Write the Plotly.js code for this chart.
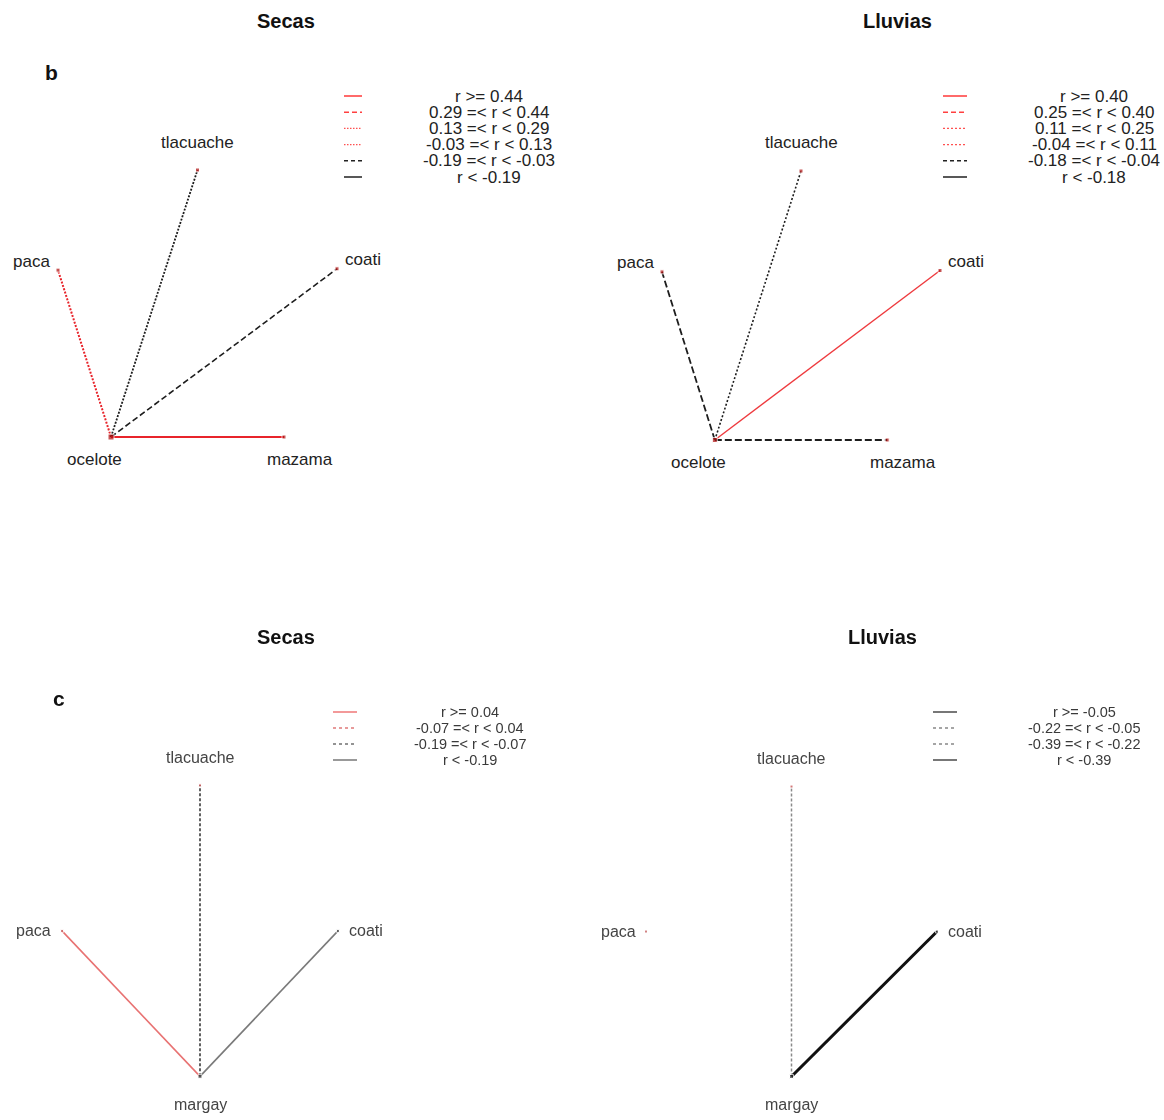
<!DOCTYPE html>
<html>
<head>
<meta charset="utf-8">
<script src="https://cdn.plot.ly/plotly-3.0.1.min.js"></script>
<style>
  html, body { margin: 0; padding: 0; background: #fff; }
  .sheet { position: absolute; left: 0; width: 1164px; height: 560px; }
  #top { top: 0; }
  #bottom { top: 560px; filter: blur(0.45px); }
</style>
</head>
<body>
<div id="top" class="sheet"></div>
<div id="bottom" class="sheet"></div>
<script>
// ---- Data ---------------------------------------------------------------
// Species of each network; the first one is the hub every link starts from.
const speciesB = ['ocelote', 'paca', 'tlacuache', 'coati', 'mazama'];
const layoutBx = [-0.62, -1, 0, 1, 0.62];
const layoutBy = [-1, 0.25, 1, 0.26, -1];

const speciesC = ['margay', 'paca', 'tlacuache', 'coati'];
const layoutCx = [0, -1, 0, 1];
const layoutCy = [-1, 0, 1, 0];

// Correlation of the hub with each other species (null = no link drawn)
const linksB = ['paca', 'tlacuache', 'coati', 'mazama'];
const rSecasB = [0.20, -0.01, -0.10, 0.52];
const rLluviasB = [-0.12, -0.02, 0.42, -0.08];

const linksC = ['paca', 'tlacuache', 'coati'];
const rSecasC = [0.08, -0.10, -0.22];
const rLluviasC = [null, -0.12, -0.45];

// Class limits shown in each legend
const cutsSecasB = [0.44, 0.29, 0.13, -0.03, -0.19];
const cutsLluviasB = [0.40, 0.25, 0.11, -0.04, -0.18];
const cutsSecasC = [0.04, -0.07, -0.19];
const cutsLluviasC = [-0.05, -0.22, -0.39];

const seasonTitles = ['Secas', 'Lluvias'];
const panelLetters = ['b', 'c'];

// ---- Styling ------------------------------------------------------------
const RED = '#e8242b', BLK = '#1e1e1e';
const W = 1164, H = 560, PAD = 1.3;

const panels = [
  { div: 'top', frame: [58, 337, 170, 437], species: speciesB, lx: layoutBx, ly: layoutBy,
    links: linksB, r: rSecasB, cuts: cutsSecasB,
    bandColor: [RED, RED, RED, RED, BLK, BLK],
    bandDash: ['solid', '5px,3px', '2px,1.5px', '2px,1.5px', '6px,3px', 'solid'],
    bandWidth: [2.2, 1.8, 2, 1.8, 1.6, 1.6],
    negColor: BLK, nodeColor: '#b01010', nodeSize: 4, hubSize: 6,
    labelFont: 17, labelColor: '#222',
    title: [286, 21], titleSize: 20, letter: [51, 72], letterText: panelLetters[0],
    legend: { x0: 344, x1: 362, tx: 489, y0: 96, dy: 16.2, size: 17, color: '#222',
      colors: ['#ff2a2a', '#ff4040', '#ff5050', '#ff5050', '#222', '#111'], width: 1.4 },
    seasonIdx: 0 },
  { div: 'top', frame: [662, 940, 171, 440], species: speciesB, lx: layoutBx, ly: layoutBy,
    links: linksB, r: rLluviasB, cuts: cutsLluviasB,
    bandColor: ['#ee3a3e', RED, RED, RED, BLK, BLK],
    bandDash: ['solid', '5px,3px', '2px,2px', '2px,2px', '7px,3px', 'solid'],
    bandWidth: [1.4, 1.8, 1.6, 1.6, 1.8, 1.8],
    negColor: BLK, nodeColor: '#b01010', nodeSize: 4, hubSize: 5,
    labelFont: 17, labelColor: '#222',
    title: [897, 21], titleSize: 20, letter: null,
    legend: { x0: 943, x1: 967, tx: 1094, y0: 96, dy: 16.2, size: 17, color: '#222',
      colors: ['#ff2a2a', '#ff4040', '#ff5050', '#ff5050', '#222', '#111'], width: 1.4 },
    seasonIdx: 1 },
  { div: 'bottom', frame: [62, 338, 226, 521], species: speciesC, lx: layoutCx, ly: layoutCy,
    links: linksC, r: rSecasC, cuts: cutsSecasC,
    bandColor: ['#e87272', '#e06060', '#3a3a3a', '#7a7a7a'],
    bandDash: ['solid', '3px,3px', '3px,2px', 'solid'],
    bandWidth: [1.6, 1.5, 1.6, 1.6],
    negColor: '#3a3a3a', nodeColor: '#3a3a3a', nodeSize: 3, hubSize: 4,
    labelFont: 16, labelColor: '#444',
    title: [286, 77], titleSize: 20, letter: [59, 138], letterText: panelLetters[1],
    legend: { x0: 333, x1: 357, tx: 470, y0: 152, dy: 16, size: 14.5, color: '#3a3a3a',
      colors: ['#f08080', '#e07a7a', '#707070', '#808080'], width: 1.6,
      dashes: ['solid', '3px,3px', '3px,3px', 'solid'] },
    seasonIdx: 0 },
  { div: 'bottom', frame: [646, 937, 227, 520], species: speciesC, lx: layoutCx, ly: layoutCy,
    links: linksC, r: rLluviasC, cuts: cutsLluviasC,
    bandColor: ['#555', '#8a8a8a', '#666', '#111'],
    bandDash: ['solid', '3px,2px', '3px,2px', 'solid'],
    bandWidth: [1.6, 1.5, 1.5, 3],
    negColor: '#555', nodeColor: '#333', nodeSize: 3, hubSize: 4,
    labelFont: 16, labelColor: '#444',
    title: [882, 77], titleSize: 20, letter: null,
    legend: { x0: 933, x1: 957, tx: 1084, y0: 152, dy: 16, size: 14.5, color: '#3a3a3a',
      colors: ['#555', '#888', '#888', '#555'], width: 1.6,
      dashes: ['solid', '3px,3px', '3px,3px', 'solid'] },
    seasonIdx: 1 }
];

// Per-node marker tints (tlacuache and the lone paca read reddish in the lower networks)
const nodeTint = { bottom: { tlacuache: '#c04040', paca: '#c05050' } };

function fmt(v) { return v.toFixed(2); }

function legendLabels(cuts) {
  const out = ['r >= ' + fmt(cuts[0])];
  for (let i = 1; i < cuts.length; i++) out.push(fmt(cuts[i]) + ' =< r < ' + fmt(cuts[i - 1]));
  out.push('r < ' + fmt(cuts[cuts.length - 1]));
  return out;
}

function bandOf(r, cuts) {
  for (let i = 0; i < cuts.length; i++) if (r >= cuts[i]) return i;
  return cuts.length;
}

const figs = { top: { data: [], shapes: [], annotations: [], axes: {} },
               bottom: { data: [], shapes: [], annotations: [], axes: {} } };
const slotCount = { top: 0, bottom: 0 };

const px = x => x / W;
const py = y => 1 - y / H;

panels.forEach(p => {
  const fig = figs[p.div];
  const slot = ++slotCount[p.div];
  const sfx = slot === 1 ? '' : String(slot);
  const xa = 'x' + sfx, ya = 'y' + sfx;

  const [x0, x1, yT, yB] = p.frame;
  const cx = (x0 + x1) / 2, sx = (x1 - x0) / 2;
  const cy = (yT + yB) / 2, sy = (yB - yT) / 2;
  const axisBase = { range: [-PAD, PAD], visible: false, fixedrange: true, showgrid: false, zeroline: false };
  fig.axes['xaxis' + sfx] = Object.assign({}, axisBase,
    { domain: [(cx - PAD * sx) / W, (cx + PAD * sx) / W], anchor: ya });
  fig.axes['yaxis' + sfx] = Object.assign({}, axisBase,
    { domain: [1 - (cy + PAD * sy) / H, 1 - (cy - PAD * sy) / H], anchor: xa });

  const idx = name => p.species.indexOf(name);
  const hub = 0;

  // Links
  p.links.forEach((name, k) => {
    const r = p.r[k];
    if (r === null) return;
    const b = bandOf(r, p.cuts);
    let color = p.bandColor[b];
    if (r < 0 && (color === RED || color === '#ee3a3e' || color.indexOf('#e') === 0)) color = p.negColor;
    const j = idx(name);
    fig.data.push({
      type: 'scatter', mode: 'lines', xaxis: xa, yaxis: ya, hoverinfo: 'skip', showlegend: false,
      x: [p.lx[hub], p.lx[j]], y: [p.ly[hub], p.ly[j]],
      line: { color: color, width: p.bandWidth[b], dash: p.bandDash[b] }
    });
  });

  // Nodes
  const tint = nodeTint[p.div] || {};
  fig.data.push({
    type: 'scatter', mode: 'markers', xaxis: xa, yaxis: ya, hoverinfo: 'skip', showlegend: false,
    cliponaxis: false, x: p.lx, y: p.ly,
    marker: { symbol: 'square',
      size: p.species.map((s, i) => i === hub ? p.hubSize : p.nodeSize),
      color: p.species.map(s => tint[s] || p.nodeColor) }
  });

  // Node labels, pushed outward from the layout centre
  const mx = p.lx.reduce((a, b) => a + b, 0) / p.lx.length;
  const my = p.ly.reduce((a, b) => a + b, 0) / p.ly.length;
  p.species.forEach((s, i) => {
    const ux = (p.lx[i] - mx) * sx, uy = (p.ly[i] - my) * sy;
    const n = Math.hypot(ux, uy) || 1;
    fig.annotations.push({
      xref: xa, yref: ya, x: p.lx[i], y: p.ly[i], text: s, showarrow: false,
      xanchor: 'center', yanchor: 'middle',
      xshift: 28 * ux / n, yshift: 28 * uy / n,
      font: { family: 'Liberation Sans, Arial, sans-serif', size: p.labelFont, color: p.labelColor }
    });
  });

  // Title and panel letter
  fig.annotations.push({
    xref: 'paper', yref: 'paper', x: px(p.title[0]), y: py(p.title[1]),
    text: '<b>' + seasonTitles[p.seasonIdx] + '</b>', showarrow: false,
    xanchor: 'center', yanchor: 'middle',
    font: { family: 'Liberation Sans, Arial, sans-serif', size: p.titleSize, color: '#111' }
  });
  if (p.letter) {
    fig.annotations.push({
      xref: 'paper', yref: 'paper', x: px(p.letter[0]), y: py(p.letter[1]),
      text: '<b>' + p.letterText + '</b>', showarrow: false,
      xanchor: 'center', yanchor: 'middle',
      font: { family: 'Liberation Sans, Arial, sans-serif', size: 21, color: '#111' }
    });
  }

  // Legend: line sample plus centred class label
  const lg = p.legend;
  legendLabels(p.cuts).forEach((lab, i) => {
    const y = lg.y0 + i * lg.dy;
    fig.shapes.push({
      type: 'line', xref: 'paper', yref: 'paper',
      x0: px(lg.x0), x1: px(lg.x1), y0: py(y), y1: py(y),
      line: { color: lg.colors[i], width: lg.width,
        dash: lg.dashes ? lg.dashes[i] : p.bandDash[i].replace('6px,3px', '4px,3px').replace('7px,3px', '4px,3px').replace('2px,1.5px', '1.5px,1.5px') }
    });
    fig.annotations.push({
      xref: 'paper', yref: 'paper', x: px(lg.tx), y: py(y), text: lab, showarrow: false,
      xanchor: 'center', yanchor: 'middle',
      font: { family: 'Liberation Sans, Arial, sans-serif', size: lg.size, color: lg.color }
    });
  });
});

['top', 'bottom'].forEach(id => {
  const f = figs[id];
  const layout = Object.assign({
    width: W, height: H, margin: { l: 0, r: 0, t: 0, b: 0 },
    paper_bgcolor: '#fff', plot_bgcolor: 'rgba(0,0,0,0)', showlegend: false,
    shapes: f.shapes, annotations: f.annotations
  }, f.axes);
  Plotly.newPlot(id, f.data, layout, { staticPlot: true, displayModeBar: false });
});
</script>
</body>
</html>
